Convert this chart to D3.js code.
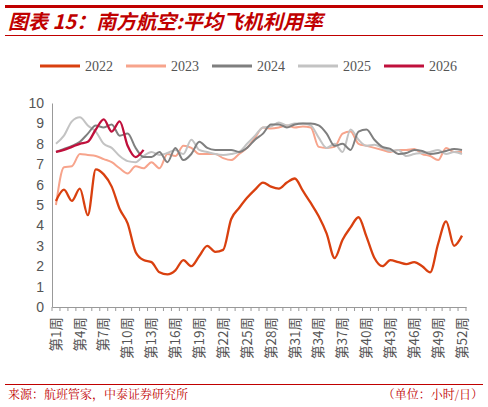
<!DOCTYPE html>
<html><head><meta charset="utf-8">
<script src="https://cdn.jsdelivr.net/npm/d3@7"></script>
<style>body{margin:0;background:#fff}</style>
</head><body>
<svg id="chart" width="488" height="407"></svg>
<script>
var weeks = d3.range(1, 53).map(function(i){ return '第' + i + '周'; });
var tickWeeks = [1,4,7,10,13,16,19,22,25,28,31,34,37,40,43,46,49,52];
var years = ['2022','2023','2024','2025','2026'];
var colors = ['#d9400f','#f7a48c','#7f7f7f','#c3c3c3','#c0103c'];

var s2022 = [5.2,5.75,5.2,5.8,4.5,6.75,6.5,5.9,4.8,4.1,2.7,2.3,2.2,1.7,1.6,1.8,2.3,2.0,2.5,3.0,2.7,2.8,4.3,4.85,5.35,5.75,6.1,5.9,5.8,6.1,6.3,5.7,5.1,4.45,3.6,2.4,3.3,3.9,4.4,3.45,2.4,2.0,2.3,2.2,2.1,2.2,2.0,1.7,3.1,4.2,3.0,3.5];
var s2023 = [5.0,6.85,6.9,7.5,7.45,7.4,7.25,7.1,6.8,6.55,6.9,6.8,7.1,6.8,7.5,7.4,7.9,7.8,7.5,7.5,7.5,7.3,7.2,7.5,7.8,8.3,8.8,8.75,8.8,8.9,8.8,8.85,8.8,7.85,7.8,7.85,8.5,8.6,8.0,7.9,7.8,7.7,7.6,7.7,7.7,7.75,7.5,7.4,7.2,7.8,7.6,7.6];
var s2024 = [7.6,7.75,7.9,8.1,8.5,8.9,8.8,8.95,8.4,8.5,7.8,7.35,7.35,7.6,7.1,7.8,7.2,7.5,8.1,7.8,7.7,7.7,7.7,7.6,7.8,8.2,8.5,8.95,8.95,8.8,8.95,9.0,9.0,8.9,8.5,7.9,8.0,7.7,8.6,8.7,8.2,7.85,7.75,7.5,7.55,7.7,7.65,7.5,7.55,7.65,7.75,7.7];
var s2025 = [8.0,8.4,9.1,9.3,8.9,8.6,8.0,7.8,7.4,7.15,7.1,7.4,7.6,7.45,7.55,7.7,7.5,8.2,7.7,7.6,7.5,7.45,7.5,7.6,8.0,8.4,8.8,8.85,9.05,8.9,9.0,9.0,8.9,8.3,7.8,8.0,7.6,8.7,8.2,7.9,7.95,7.8,7.65,7.7,7.4,7.5,7.55,7.6,7.7,7.5,7.6,7.5];
var s2026 = [7.6,7.7,7.85,8.0,8.1,8.7,9.2,8.6,9.1,7.9,7.35,7.7];
var series = [s2022, s2023, s2024, s2025, s2026];
var yTicks = d3.range(0, 11);

var svg = d3.select('#chart');
var red = '#c00000';

// header
svg.append('rect').attr('x', 5).attr('y', 5).attr('width', 478).attr('height', 3).attr('fill', red);
svg.append('line').attr('x1', 5).attr('x2', 483).attr('y1', 35.5).attr('y2', 35.5).attr('stroke', red).attr('stroke-width', 1);
svg.append('text').attr('x', 8).attr('y', 29)
	.attr('fill', red).attr('font-size', 20).attr('font-style', 'italic').attr('font-weight', 'bold')
	.attr('font-family', '"Noto Sans CJK SC", sans-serif')
	.text('图表 15：南方航空:平均飞机利用率');

var x = d3.scaleBand().domain(weeks).range([52, 466]);
var y = d3.scaleLinear().domain([0, 10]).range([307, 103]);

// axes
var yAxis = svg.append('g').attr('transform', 'translate(52,0)')
	.call(d3.axisLeft(y).tickValues(yTicks).tickSize(0).tickPadding(8));
yAxis.select('.domain').attr('stroke', '#999');
yAxis.selectAll('text').attr('font-family', 'Liberation Sans, Arial').attr('font-size', 14).attr('fill', '#555');

var xAxis = svg.append('g').attr('transform', 'translate(0,307)')
	.call(d3.axisBottom(x).tickSize(4).tickSizeOuter(0).tickFormat(function(d){
		var n = +d.replace(/\D/g, '');
		return tickWeeks.indexOf(n) > -1 ? d : '';
	}));
xAxis.select('.domain').attr('stroke', '#999');
xAxis.selectAll('.tick line').attr('stroke', '#999').attr('transform', 'translate(' + (-x.step() / 2) + ',0)');
xAxis.append('line').attr('x1', 466).attr('x2', 466).attr('y1', 0).attr('y2', 4).attr('stroke', '#999');
xAxis.selectAll('text')
	.attr('font-family', '"Noto Sans CJK SC", sans-serif').attr('font-size', 13.5).attr('fill', '#555')
	.attr('text-anchor', 'end').attr('dx', '-0.3em').attr('dy', '0.35em')
	.attr('x', 0).attr('y', 0)
	.attr('transform', 'translate(0,6) rotate(-90)');

// lines
var line = d3.line()
	.x(function(d, i){ return x(weeks[i]) + x.bandwidth() / 2; })
	.y(function(d){ return y(d); })
	.curve(d3.curveMonotoneX);

[1, 3, 2, 0, 4].forEach(function(k){
	svg.append('path').datum(series[k])
		.attr('d', line).attr('fill', 'none')
		.attr('stroke', colors[k]).attr('stroke-width', k == 0 || k == 4 ? 2.3 : 2);
});

// legend
var legend = svg.append('g').attr('transform', 'translate(40,66)');
years.forEach(function(yr, i){
	var g = legend.append('g').attr('transform', 'translate(' + (i * 86) + ',0)');
	g.append('line').attr('x1', 0).attr('x2', 40).attr('stroke', colors[i]).attr('stroke-width', 3);
	g.append('text').attr('x', 45).attr('y', 5).text(yr)
		.attr('font-family', 'Liberation Serif, serif').attr('font-size', 14).attr('fill', '#555');
});

// footer
svg.append('line').attr('x1', 5).attr('x2', 483).attr('y1', 384.5).attr('y2', 384.5).attr('stroke', red);
svg.append('text').attr('x', 8).attr('y', 399).attr('fill', red).attr('font-size', 12)
	.attr('font-family', '"Noto Serif CJK SC", "Noto Sans CJK SC", serif').text('来源：航班管家，中泰证券研究所');
svg.append('text').attr('x', 483).attr('y', 399).attr('fill', red).attr('font-size', 12).attr('text-anchor', 'end')
	.attr('font-family', '"Noto Serif CJK SC", "Noto Sans CJK SC", serif').text('（单位：小时/日）');
</script>
</body></html>
